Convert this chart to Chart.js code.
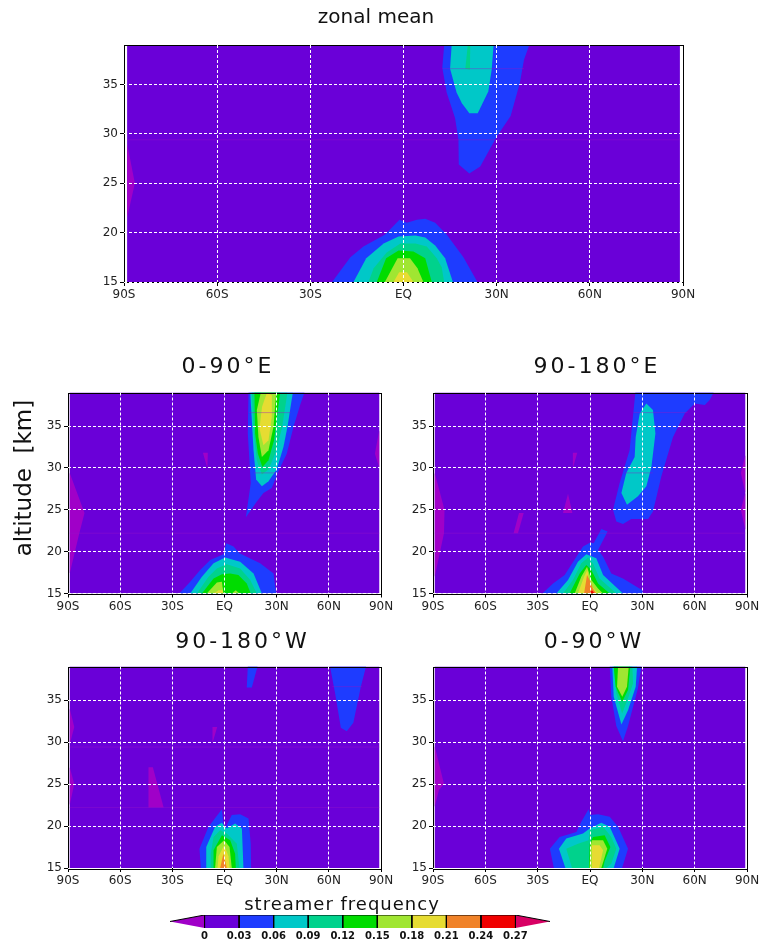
<!DOCTYPE html>
<html>
<head>
<meta charset="utf-8">
<title>streamer frequency</title>
<script src="https://cdn.jsdelivr.net/npm/chart.js@4"></script>
<style>
html, body { margin: 0; background: #fff; overflow: hidden; }
#page { position: relative; width: 760px; height: 942px; overflow: hidden; }
canvas { position: absolute; }
</style>
</head>
<body>
<div id="page"></div>
<script>
// axis tick labels
const latLabels = ['90S', '60S', '30S', 'EQ', '30N', '60N', '90N'];
const legendLevels = [0, 0.03, 0.06, 0.09, 0.12, 0.15, 0.18, 0.21, 0.24, 0.27];
const panelTitles = ['zonal mean', '0-90°E', '90-180°E', '90-180°W', '0-90°W'];

// contour outlines as [latitude, altitude km]
const fullField = [[-89, 15], [-89, 39], [89, 39], [89, 15]];

const zonalPinkLeft = [[-89, 21.5], [-86.5, 25], [-89, 29]];
const zonalUpperBlue = [[13.1, 39], [12.5, 36.7], [13.9, 34.2], [16.6, 31.6], [17.7, 29.4], [17.8, 26.9], [21.2, 26], [24.7, 26.7], [30, 29.7], [34.5, 31.8], [37.5, 35.2], [38.8, 37.5], [40.5, 39]];
const zonalUpperCyan = [[15.5, 39], [15, 36.6], [17.1, 34.2], [18.8, 33.1], [21.2, 32.1], [23.9, 32.1], [27.3, 34.3], [28.4, 36.5], [29, 39]];
const zonalUpperTeal = [[20.7, 39], [19.9, 36.6], [21.4, 36.5], [21.5, 39]];
const zonalLowBlue = [[-23, 15], [-17.1, 17.5], [-12.9, 18.6], [-5.9, 19.8], [-1.3, 21.3], [1.1, 21], [4.3, 21.3], [7, 21.4], [10.2, 21], [13.9, 19.8], [19.3, 17.5], [23.8, 15]];
const zonalLowCyan = [[-16.1, 15], [-12, 17.4], [-6.4, 18.9], [-1.6, 19.6], [3.8, 19.7], [7, 19.5], [10.2, 18.7], [13.4, 17.4], [15.9, 15]];
const zonalLowTeal = [[-11.3, 15], [-9.6, 16.4], [-5.4, 18], [-1, 18.9], [3.8, 18.9], [7.5, 18.6], [10.7, 17.4], [12.3, 16.5], [13.1, 15]];
const zonalLowGreen = [[-8.6, 15], [-5.6, 17.4], [-1.6, 18.2], [3.2, 18.1], [7, 17.4], [9.1, 15]];
const zonalLowLime = [[-6, 15], [-1.9, 17.4], [2.1, 17.4], [4.5, 16.4], [6.4, 15]];
const zonalLowYellow = [[-3.2, 15], [-1.4, 16], [1.1, 16], [3.2, 15]];

const eastAPinkLeft = [[-89, 29.4], [-80.5, 24.6], [-83.5, 22.2], [-89, 17.4]];
const eastAPinkRight = [[89, 34.5], [86.5, 31.7], [89, 30]];
const eastAPinkMid = [[-12.4, 31.8], [-9.6, 31.8], [-9.8, 29.9]];
const eastAUpperBlue = [[13.8, 39], [13.4, 34.1], [15.1, 28.2], [12.3, 24.1], [18.6, 26], [22.4, 27], [27.2, 27.6], [31, 29.6], [35.8, 31.7], [39.7, 34.9], [43.5, 37.5], [46, 39]];
const eastAUpperCyan = [[14.8, 39], [16.7, 32.1], [18.2, 28.6], [21.5, 27.8], [25.3, 28.4], [30, 29.8], [33.9, 32.5], [36.2, 34.9], [39.3, 39]];
const eastAUpperTeal = [[15.7, 39], [16.7, 34.5], [18.6, 30.9], [21.5, 29.2], [25.3, 29.8], [29.1, 31.7], [33, 34.7], [36.2, 39]];
const eastAUpperGreen = [[17.2, 39], [17.6, 34.1], [19.2, 31.7], [21.8, 30.1], [25.3, 30.9], [28.5, 33.3], [32, 39]];
const eastAUpperLime = [[20.9, 39], [18.6, 36.9], [19.5, 33.7], [21.5, 31.3], [25.3, 32.1], [28.2, 34.9], [29.7, 39]];
const eastAUpperYellow = [[24.3, 38.9], [21.6, 37.3], [20.1, 34.7], [22.4, 32.7], [25.3, 33.3], [27.2, 36.1], [27.2, 38.7]];
const eastALowBlue = [[-26, 15], [-19.7, 16.4], [-14, 17.8], [-8.2, 19], [-0.6, 19.7], [1, 21], [5.2, 20.6], [8.6, 19.8], [20.5, 18.6], [28.2, 17.4], [29.7, 15]];
const eastALowCyan = [[-19.7, 15], [-13, 17], [-6.3, 18.6], [0.4, 19.3], [9, 18.8], [16.7, 17.4], [21.5, 15]];
const eastALowTeal = [[-15.9, 15], [-9.2, 17], [-4.4, 18], [1.3, 18.5], [9, 18], [14.8, 16.6], [18.6, 15]];
const eastALowGreen = [[-13, 15], [-6.3, 16.8], [-1.5, 17.3], [3.3, 17.4], [8, 17.2], [12.8, 16.2], [15.1, 15]];
const eastALowLimeA = [[-10.2, 15], [-4.4, 16.3], [-1.5, 16.4], [-0.6, 15]];
const eastALowLimeB = [[4.2, 15], [6.5, 15.4], [8.6, 15]];
const eastALowYellow = [[-6.3, 15], [-3.4, 15.4], [-1, 15.4], [-0.6, 15]];

const eastBPinkLeft = [[-89, 29.4], [-83.4, 25], [-83.7, 22.2], [-89, 17]];
const eastBPinkRight = [[89, 31.5], [86.5, 29.4], [89, 27], [86.5, 25], [89, 22.6]];
const eastBPinkA = [[-9.8, 31.8], [-7.3, 31.8], [-9.8, 30]];
const eastBPinkB = [[-12.6, 26.9], [-15.5, 24.6], [-10.1, 24.6]];
const eastBPinkC = [[-40.7, 24.6], [-38, 24.6], [-41.3, 22.2], [-43.8, 22.2]];
const eastBUpperBlue = [[26, 39], [22.7, 32.1], [17, 28.2], [13.2, 25], [15.1, 23.6], [18.9, 23.3], [23.7, 23.9], [33.3, 23.9], [36.1, 24.8], [40.9, 29], [47.6, 33.7], [54.3, 36.5], [60, 37.7], [65.8, 37.5], [68.6, 38.1], [70.9, 39]];
const eastBUpperCyan = [[32.3, 37.7], [28.5, 36.5], [26.2, 33.7], [25.6, 31.3], [20.8, 29.4], [18, 27], [21.2, 25.6], [27.5, 26.6], [32.3, 27.8], [35.2, 30.1], [37.5, 34.1], [36.1, 36.9]];
const eastBLowBlue = [[-27.3, 15], [-21.2, 16.2], [-14.5, 17.2], [-7.8, 19.4], [-4, 20.6], [0.2, 21.1], [2.1, 21], [6.5, 22.7], [10.1, 22.4], [4.6, 20.2], [7.5, 19.4], [12.2, 17.4], [18.9, 16.8], [30, 15.4], [30.4, 15]];
const eastBLowCyan = [[-19.3, 15], [-12.6, 16.6], [-6.9, 18.8], [-2.1, 19.7], [3.6, 19.2], [7.5, 17.2], [18.9, 15]];
const eastBLowTeal = [[-15.5, 15], [-9.8, 16.6], [-5, 18.6], [-1.1, 19.3], [1.7, 18.6], [5.5, 16.8], [15.1, 15]];
const eastBLowGreen = [[-11.7, 15], [-5.9, 17.4], [-2.1, 18.4], [0.8, 17.8], [4.6, 16.2], [11.3, 15]];
const eastBLowLime = [[-8.8, 15], [-5, 17], [-1.7, 18.2], [0.8, 16.6], [4.6, 15.6], [7.5, 15]];
const eastBLowYellow = [[-6.9, 15], [-3.4, 17], [-1.5, 17.8], [-0.2, 16.2], [3.6, 15.2], [5.2, 15]];
const eastBLowOrange = [[-3.4, 15], [-1.7, 17.2], [-0.2, 16.6], [1.7, 15.6], [3.6, 15]];
const eastBLowRed = [[-0.2, 15], [1.1, 15.4], [2.7, 15]];

const westAPinkTop = [[-89, 34], [-86.4, 31.8], [-89, 29.7]];
const westAPinkLow = [[-89, 27], [-86.4, 25], [-89, 22.5]];
const westAPinkA = [[-43.7, 27], [-41.2, 27], [-35, 22.2], [-43.7, 22.2]];
const westAPinkB = [[-6.9, 31.8], [-4.2, 31.8], [-6.9, 29.9]];
const westABlueA = [[13.4, 39], [19, 39], [15.7, 36.5], [12.8, 36.5]];
const westABlueB = [[60.7, 39], [81.4, 39], [78.4, 36.6], [74.1, 32.3], [70.3, 31.3], [66.9, 31.7], [63.6, 35.8]];
const westALowBlue = [[-13.6, 15], [-14.4, 17.3], [-9.2, 19.9], [-1.5, 22], [-0.2, 19.5], [4.2, 21.3], [9, 21.4], [13.8, 20.9], [15.1, 17.9], [15.3, 15]];
const westALowCyan = [[-10.5, 15], [-10.5, 17.5], [-5.4, 19.9], [-1.5, 20.4], [1.3, 19.7], [6.1, 20.3], [10, 19.7], [10.9, 15]];
const westALowTeal = [[-7.9, 15], [-7.9, 16.7], [-6.3, 18.7], [-2.5, 19.5], [1.3, 19.1], [7.1, 17.9], [8.6, 15]];
const westALowGreen = [[-6.3, 15], [-6.3, 17.1], [-1.5, 18.9], [3.3, 18.3], [6.1, 16.7], [6.5, 15]];
const westALowLime = [[-5.4, 15], [-4.4, 17.5], [-0.2, 18.3], [2.9, 17.5], [4.2, 15]];
const westALowYellow = [[-4, 15], [-3.4, 16.4], [-0.2, 17.7], [2.3, 16.4], [2.9, 15]];
const westALowOrange = [[-2.5, 15], [-0.6, 16.7], [1.3, 15]];

const westBPinkLeft = [[-89, 29.5], [-83.7, 25], [-86.6, 24.3], [-89, 22.3]];
const westBUpperBlue = [[11.3, 39], [12.2, 35.4], [15.1, 31.9], [18.9, 30.1], [21.8, 31.9], [27.5, 36.4], [29.4, 39]];
const westBUpperCyan = [[12.8, 39], [13.6, 35.4], [18, 32.1], [21.8, 33.8], [26.2, 36.6], [27, 39]];
const westBUpperTeal = [[13.6, 39], [15.1, 35.8], [18.4, 33.4], [21.8, 35.2], [24.7, 37], [24.3, 39]];
const westBUpperGreen = [[13.6, 39], [14.7, 36.6], [18.4, 34.8], [21.8, 36.2], [23.1, 39]];
const westBUpperLime = [[16.1, 39], [15.5, 36.6], [18.5, 35.4], [21.2, 36.6], [22.2, 39]];
const westBLowBlue = [[-20.7, 15], [-23, 17.3], [-17.4, 18.7], [-7.8, 19.3], [-5, 20.5], [-0.8, 22], [0.2, 21.3], [4.6, 21.4], [11.3, 21.1], [16.1, 19.9], [21.8, 17.3], [18.4, 15]];
const westBLowCyan = [[-14.1, 15], [-17.8, 17.3], [-13.6, 18.5], [-4, 19.1], [-0.2, 19.7], [6.5, 20.4], [11.3, 19.9], [17, 17.3], [13.6, 15]];
const westBLowTeal = [[-10.3, 15], [-13.6, 17.3], [-6.9, 17.9], [-0.8, 18.3], [-0.2, 19.5], [7.6, 19.9], [12.2, 18.7], [15.1, 17.3], [12.2, 15.5], [9.4, 15]];
const westBLowGreen = [[-0.6, 15], [-0.2, 17.9], [1.7, 18.7], [8.4, 18.9], [11.7, 17.5], [8.4, 15.8], [7.5, 15]];
const westBLowLime = [[-0.2, 15], [0.2, 17.5], [1.1, 18.3], [7.5, 18.3], [9.9, 17.3], [6.5, 15]];
const westBLowYellow = [[0.8, 15], [1.1, 17.7], [5.5, 17.7], [7.5, 17.1], [5.2, 15]];

// thin seams in the contour plot: [from lat, to lat, altitude]
const zonalSeams = [[-89, 89, 29.4], [12.5, 38.8, 36.6]];
const eastASeams = [[-89, 89, 22.2], [14, 38, 36.6], [17, 31, 29.4]];
const eastBSeams = [[-89, 89, 22.2], [25, 56, 36.6], [20, 36, 29.4]];
const westASeams = [[-89, 89, 29.4], [-89, 89, 22.2], [62, 79, 36.6]];
const westBSeams = [];

// index 0 is below the first level, 10 above the last
const bandColors = ['#a000c8', '#6a00d8', '#1e3cff', '#00c8c8', '#00d28c', '#00dc00', '#a0e632', '#e6dc32', '#f08228', '#f00000', '#d80064'];
const PINK = 0, BASE = 1, BLUE = 2, CYAN = 3, TEAL = 4, GREEN = 5, LIME = 6, YELLOW = 7, ORANGE = 8, RED = 9;

const zonalBands = [[BASE, fullField], [PINK, zonalPinkLeft], [BLUE, zonalUpperBlue], [CYAN, zonalUpperCyan], [TEAL, zonalUpperTeal], [BLUE, zonalLowBlue], [CYAN, zonalLowCyan], [TEAL, zonalLowTeal], [GREEN, zonalLowGreen], [LIME, zonalLowLime], [YELLOW, zonalLowYellow]];
const eastABands = [[BASE, fullField], [PINK, eastAPinkLeft], [PINK, eastAPinkRight], [PINK, eastAPinkMid], [BLUE, eastAUpperBlue], [CYAN, eastAUpperCyan], [TEAL, eastAUpperTeal], [GREEN, eastAUpperGreen], [LIME, eastAUpperLime], [YELLOW, eastAUpperYellow], [BLUE, eastALowBlue], [CYAN, eastALowCyan], [TEAL, eastALowTeal], [GREEN, eastALowGreen], [LIME, eastALowLimeA], [LIME, eastALowLimeB], [YELLOW, eastALowYellow]];
const eastBBands = [[BASE, fullField], [PINK, eastBPinkLeft], [PINK, eastBPinkRight], [PINK, eastBPinkA], [PINK, eastBPinkB], [PINK, eastBPinkC], [BLUE, eastBUpperBlue], [CYAN, eastBUpperCyan], [BLUE, eastBLowBlue], [CYAN, eastBLowCyan], [TEAL, eastBLowTeal], [GREEN, eastBLowGreen], [LIME, eastBLowLime], [YELLOW, eastBLowYellow], [ORANGE, eastBLowOrange], [RED, eastBLowRed]];
const westABands = [[BASE, fullField], [PINK, westAPinkTop], [PINK, westAPinkLow], [PINK, westAPinkA], [PINK, westAPinkB], [BLUE, westABlueA], [BLUE, westABlueB], [BLUE, westALowBlue], [CYAN, westALowCyan], [TEAL, westALowTeal], [GREEN, westALowGreen], [LIME, westALowLime], [YELLOW, westALowYellow], [ORANGE, westALowOrange]];
const westBBands = [[BASE, fullField], [PINK, westBPinkLeft], [BLUE, westBUpperBlue], [CYAN, westBUpperCyan], [TEAL, westBUpperTeal], [GREEN, westBUpperGreen], [LIME, westBUpperLime], [BLUE, westBLowBlue], [CYAN, westBLowCyan], [TEAL, westBLowTeal], [GREEN, westBLowGreen], [LIME, westBLowLime], [YELLOW, westBLowYellow]];

Chart.defaults.font.family = '"DejaVu Sans", sans-serif';
Chart.defaults.color = '#222';
Chart.defaults.animation = false;

const page = document.getElementById('page');

function addCanvas(left, top, width, height) {
    const canvas = document.createElement('canvas');
    canvas.width = width;
    canvas.height = height;
    canvas.style.left = left + 'px';
    canvas.style.top = top + 'px';
    page.appendChild(canvas);
    return canvas;
}

function polygon(points, color, line) {
    return {
        data: points.map(p => ({ x: p[0], y: p[1] })),
        showLine: true,
        fill: 'shape',
        backgroundColor: color,
        borderColor: line || color,
        borderWidth: line ? 1 : 0,
        pointRadius: 0,
        tension: 0
    };
}

// empty axis on the right, keeps the title centred on the whole canvas
function spacerAxis(width) {
    return {
        type: 'linear', position: 'right',
        afterFit(scale) { scale.width = width; },
        grid: { display: false },
        border: { display: false },
        ticks: { display: false }
    };
}

const framePlugin = {
    id: 'frame',
    afterDatasetsDraw(chart) {
        const { ctx, chartArea: a } = chart;
        ctx.save();
        ctx.strokeStyle = '#000';
        ctx.lineWidth = 1;
        ctx.strokeRect(Math.round(a.left) + 0.5, Math.round(a.top) + 0.5, Math.round(a.width), Math.round(a.height));
        ctx.restore();
    }
};

// the reference titles are spaced wider than the font
function titleSpacing(px) {
    return {
        id: 'titleSpacing',
        beforeDraw(chart) {
            const block = chart.titleBlock;
            if (block.spaced) return;
            const draw = block.draw.bind(block);
            block.draw = () => {
                chart.ctx.letterSpacing = px + 'px';
                draw();
                chart.ctx.letterSpacing = '0px';
            };
            block.spaced = true;
        }
    };
}

function edgeHidden(ctx) {
    return ctx.tick && Math.abs(ctx.tick.value) === 90 ? 'rgba(255,255,255,0)' : '#fff';
}

function drawPanel(p) {
    const axisHeight = 24;
    const height = Math.ceil(p.bottom - p.canvasTop + axisHeight);
    const canvas = addCanvas(p.canvasLeft, p.canvasTop, p.canvasWidth, height);
    const padTop = p.titleY - p.canvasTop - p.titleSize / 2;
    const padBottom = p.top - p.canvasTop - p.titleSize - padTop;

    const datasets = p.bands.map(b => polygon(b[1], bandColors[b[0]]));
    p.seams.forEach(s => {
        datasets.push({
            data: [{ x: s[0], y: s[2] }, { x: s[1], y: s[2] }],
            showLine: true, fill: false, borderColor: 'rgba(150,20,200,0.4)', borderWidth: 1, pointRadius: 0
        });
    });
    datasets.forEach((d, i) => { d.order = -i; });

    new Chart(canvas.getContext('2d'), {
        type: 'scatter',
        data: { datasets: datasets },
        plugins: [framePlugin, titleSpacing(p.titleGap)],
        options: {
            responsive: false,
            layout: { autoPadding: false, padding: { left: 0, top: 0, right: 0, bottom: height - axisHeight - (p.bottom - p.canvasTop) } },
            plugins: {
                legend: { display: false },
                tooltip: { enabled: false },
                title: { display: true, text: p.title, color: '#111', font: { size: p.titleSize, weight: 'normal', lineHeight: 1 }, padding: { top: padTop, bottom: padBottom } }
            },
            scales: {
                x: {
                    type: 'linear', min: -90, max: 90,
                    afterFit(scale) { scale.height = axisHeight; },
                    grid: { z: 1, color: edgeHidden, tickColor: '#000', tickLength: 4, lineWidth: 1 },
                    border: { display: false, dash: [3, 2] },
                    ticks: { stepSize: 30, autoSkip: false, maxRotation: 0, padding: 2, font: { size: 12 }, callback: v => latLabels[(v + 90) / 30] }
                },
                y: {
                    type: 'linear', min: 15, max: 39,
                    afterFit(scale) { scale.width = p.left - p.canvasLeft; },
                    grid: { z: 1, color: '#fff', tickColor: '#000', tickLength: 4, lineWidth: 1 },
                    border: { display: false, dash: [3, 2] },
                    title: p.yTitle ? { display: true, text: p.yTitle, color: '#111', font: { size: 23, lineHeight: 1 }, align: 'end', padding: { top: 14, bottom: 0 } } : { display: false },
                    ticks: { stepSize: 5, includeBounds: false, padding: 2, font: { size: 12 } }
                },
                spacer: spacerAxis(p.canvasLeft + p.canvasWidth - p.right)
            }
        }
    });
}

function drawColorbar() {
    const canvasTop = 880, canvasLeft = 120, width = 444, height = 62;
    const barTop = 915, barBottom = 928, barLeft = 170, barRight = 550, titleSize = 18;
    const canvas = addCanvas(canvasLeft, canvasTop, width, height);
    const padTop = 905 - canvasTop - titleSize / 2;

    const lowest = legendLevels[0] - 0.03;
    const highest = legendLevels[legendLevels.length - 1] + 0.03;
    const datasets = [polygon([[lowest, 0.5], [legendLevels[0], 1], [legendLevels[0], 0]], bandColors[0], '#000')];
    legendLevels.slice(0, -1).forEach((lev, i) => {
        const next = legendLevels[i + 1];
        datasets.push(polygon([[lev, 0], [lev, 1], [next, 1], [next, 0]], bandColors[i + 1], '#000'));
    });
    const last = legendLevels[legendLevels.length - 1];
    datasets.push(polygon([[last, 0], [last, 1], [highest, 0.5]], bandColors[10], '#000'));

    new Chart(canvas.getContext('2d'), {
        type: 'scatter',
        data: { datasets: datasets },
        plugins: [titleSpacing(1)],
        options: {
            responsive: false,
            layout: { autoPadding: false, padding: 0 },
            plugins: {
                legend: { display: false },
                tooltip: { enabled: false },
                title: { display: true, text: 'streamer frequency', color: '#111', font: { size: titleSize, weight: 'normal', lineHeight: 1 }, padding: { top: padTop, bottom: barTop - canvasTop - titleSize - padTop } }
            },
            scales: {
                x: {
                    type: 'linear', min: lowest, max: highest,
                    afterBuildTicks(scale) { scale.ticks = legendLevels.map(v => ({ value: v })); },
                    afterFit(scale) { scale.height = canvasTop + height - barBottom; },
                    grid: { display: false, drawTicks: false },
                    border: { display: false },
                    ticks: { autoSkip: false, maxRotation: 0, padding: 2, color: '#111', font: { size: 10, weight: 'bold' }, callback: v => String(v) }
                },
                y: {
                    type: 'linear', min: 0, max: 1,
                    afterFit(scale) { scale.width = barLeft - canvasLeft; },
                    grid: { display: false },
                    border: { display: false },
                    ticks: { display: false }
                },
                spacer: spacerAxis(canvasLeft + width - barRight)
            }
        }
    });
}

drawPanel({ title: panelTitles[0], bands: zonalBands, seams: zonalSeams, canvasLeft: 0, canvasTop: 0, canvasWidth: 752, left: 124, right: 683, top: 45, bottom: 282, titleY: 18, titleSize: 20, titleGap: 0 });
drawPanel({ title: panelTitles[1], bands: eastABands, seams: eastASeams, canvasLeft: 0, canvasTop: 350, canvasWidth: 456, left: 68, right: 381, top: 392.5, bottom: 593.5, titleY: 367, titleSize: 22, titleGap: 3, yTitle: 'altitude  [km]\u00a0' });
drawPanel({ title: panelTitles[2], bands: eastBBands, seams: eastBSeams, canvasLeft: 405, canvasTop: 350, canvasWidth: 384, left: 433, right: 747, top: 392.5, bottom: 593.5, titleY: 367, titleSize: 22, titleGap: 3 });
drawPanel({ title: panelTitles[3], bands: westABands, seams: westASeams, canvasLeft: 0, canvasTop: 625, canvasWidth: 485, left: 68, right: 381, top: 666.5, bottom: 868, titleY: 642, titleSize: 22, titleGap: 3 });
drawPanel({ title: panelTitles[4], bands: westBBands, seams: westBSeams, canvasLeft: 400, canvasTop: 625, canvasWidth: 388, left: 433, right: 747, top: 666.5, bottom: 868, titleY: 642, titleSize: 22, titleGap: 3 });
drawColorbar();
</script>
</body>
</html>
